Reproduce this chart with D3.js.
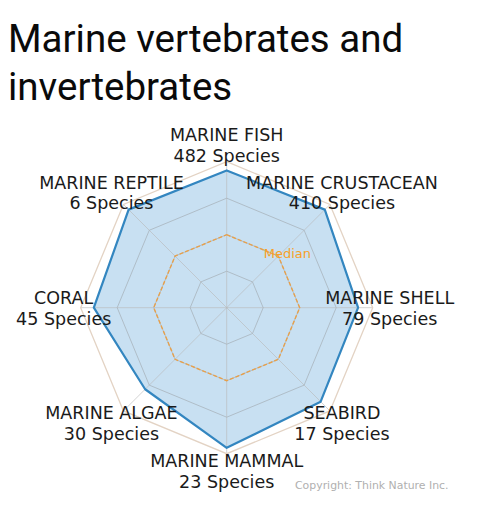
<!DOCTYPE html>
<html>
<head>
<meta charset="utf-8">
<script src="https://cdn.jsdelivr.net/npm/d3@7"></script>
<style>
  html, body { margin: 0; padding: 0; background: #fff; }
  svg { display: block; }
</style>
</head>
<body>
<svg id="chart" width="503" height="518"></svg>
<script>
// ---- data ----
const titleLines = ["Marine vertebrates and", "invertebrates"];
const categories = ["MARINE FISH", "MARINE CRUSTACEAN", "MARINE SHELL", "SEABIRD",
                    "MARINE MAMMAL", "MARINE ALGAE", "CORAL", "MARINE REPTILE"];
const speciesCounts = [482, 410, 79, 17, 23, 30, 45, 6];
// radial score (outer ring = 100)
const scores = [94, 95, 90, 91, 96, 79, 91, 95];
const ringTicks = [25, 50, 75, 100];
const medianValue = 50;
const medianLabel = "Median";
const copyright = "Copyright: Think Nature Inc.";

// ---- layout ----
const svg = d3.select("#chart");
const cx = 226.7, cy = 307.7;
const rMax = 146;
const labelR = 163;

svg.append("g").selectAll("text").data(titleLines).join("text")
  .attr("x", 8)
  .attr("y", (d, i) => 52 + i * 48)
  .attr("font-family", "Roboto, sans-serif")
  .attr("font-size", 38.5)
  .attr("fill", "#0a0a0a")
  .text(d => d);

const r = d3.scaleLinear().domain([0, 100]).range([0, rMax]);
const angle = d3.scalePoint().domain(categories).range([0, 2 * Math.PI * (categories.length - 1) / categories.length]);

const g = svg.append("g").attr("transform", `translate(${cx},${cy})`);

const ringLine = d3.lineRadial()
  .angle(d => angle(d.cat))
  .radius(d => r(d.v))
  .curve(d3.curveLinearClosed);

// data polygon fill (under grid so grid shows through)
const dataPts = categories.map((c, i) => ({ cat: c, v: scores[i] }));
g.append("path")
  .attr("d", ringLine(dataPts))
  .attr("fill", "#c8e0f2")
  .attr("stroke", "none");

// spokes
g.append("g").selectAll("line").data(categories).join("line")
  .attr("x1", 0).attr("y1", 0)
  .attr("x2", d => r(100) * Math.sin(angle(d)))
  .attr("y2", d => -r(100) * Math.cos(angle(d)))
  .attr("stroke", "#b8b8b8")
  .attr("stroke-opacity", 0.6)
  .attr("stroke-width", 1);

// rings
g.append("g").selectAll("path").data(ringTicks).join("path")
  .attr("d", t => ringLine(categories.map(c => ({ cat: c, v: t }))))
  .attr("fill", "none")
  .attr("stroke", t => t === 100 ? "#e3d3c4" : "#a9b4bd")
  .attr("stroke-opacity", t => t === 100 ? 1 : 0.8)
  .attr("stroke-width", t => t === 100 ? 1.3 : 1);

// median dashed ring
g.append("path")
  .attr("d", ringLine(categories.map(c => ({ cat: c, v: medianValue }))))
  .attr("fill", "none")
  .attr("stroke", "#e8a04a")
  .attr("stroke-width", 1.4)
  .attr("stroke-dasharray", "4,2");

// data outline
g.append("path")
  .attr("d", ringLine(dataPts))
  .attr("fill", "none")
  .attr("stroke", "#3386c0")
  .attr("stroke-width", 2.2)
  .attr("stroke-linejoin", "round");

// median label
const ma = angle(categories[1]);
g.append("text")
  .attr("x", r(medianValue) * Math.sin(ma) + 9)
  .attr("y", -r(medianValue) * Math.cos(ma) + 2)
  .attr("text-anchor", "middle")
  .attr("font-family", "DejaVu Sans, sans-serif")
  .attr("font-size", 13)
  .attr("fill", "#f7a028")
  .text(medianLabel);

// category labels
const lab = g.append("g").selectAll("text").data(categories).join("text")
  .attr("text-anchor", "middle")
  .attr("font-family", "DejaVu Sans, sans-serif")
  .attr("font-size", 17.5)
  .attr("fill", "#1a1a1a")
  .attr("transform", d => `translate(${labelR * Math.sin(angle(d))},${-labelR * Math.cos(angle(d))})`);
lab.append("tspan").attr("x", 0).attr("y", -3.5).text(d => d);
lab.append("tspan").attr("x", 0).attr("y", 17).text((d, i) => `${speciesCounts[i]} Species`);

// copyright
svg.append("text")
  .attr("x", 295)
  .attr("y", 489)
  .attr("font-family", "DejaVu Sans, sans-serif")
  .attr("font-size", 10.9)
  .attr("fill", "#b0b0b0")
  .text(copyright);
</script>
</body>
</html>
